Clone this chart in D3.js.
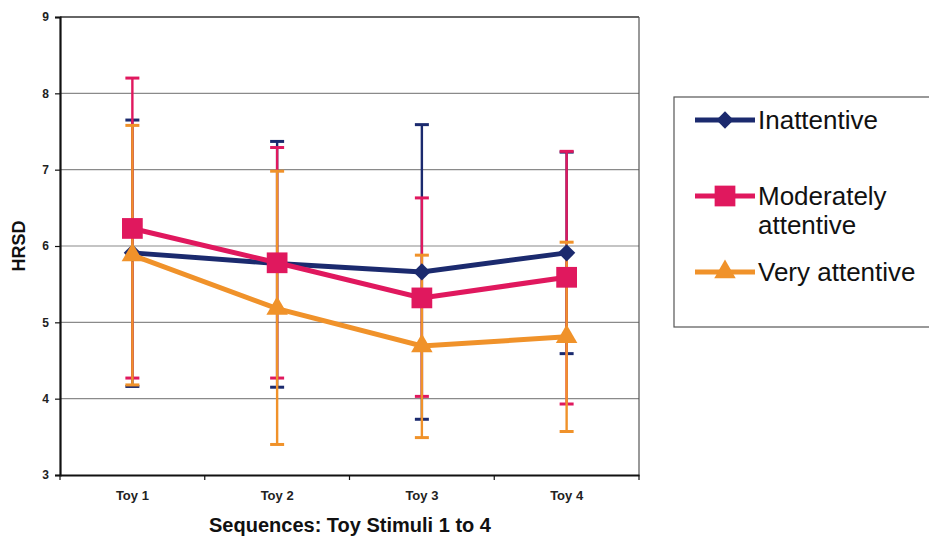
<!DOCTYPE html>
<html>
<head>
<meta charset="utf-8">
<script src="https://cdn.jsdelivr.net/npm/d3@7"></script>
<style>
  body { margin: 0; background: #fff; }
  text { font-family: "Liberation Sans", Arial, sans-serif; }
</style>
</head>
<body>
<div id="chart"></div>
<script>
// chart values
var categories = ["Toy 1", "Toy 2", "Toy 3", "Toy 4"];
var seriesNames = ["Inattentive", "Moderately attentive", "Very attentive"];
var inattentiveMean  = [5.91, 5.77, 5.66, 5.91];
var inattentiveHigh  = [7.65, 7.37, 7.59, 7.23];
var inattentiveLow   = [4.16, 4.15, 3.73, 4.59];
var moderateMean     = [6.23, 5.78, 5.32, 5.59];
var moderateHigh     = [8.20, 7.29, 6.63, 7.24];
var moderateLow      = [4.27, 4.27, 4.03, 3.93];
var veryMean         = [5.88, 5.18, 4.69, 4.81];
var veryHigh         = [7.58, 6.98, 5.88, 6.05];
var veryLow          = [4.18, 3.40, 3.49, 3.57];
var yTicks = [3, 4, 5, 6, 7, 8, 9];

var colors = ["#1b2a6e", "#e0185e", "#f0922a"];
var shapes = [d3.symbolDiamond2, d3.symbolSquare, d3.symbolTriangle];
var shapeSize = [190, 430, 200];

var series = [
  {name: seriesNames[0], mean: inattentiveMean, hi: inattentiveHigh, lo: inattentiveLow},
  {name: seriesNames[1], mean: moderateMean, hi: moderateHigh, lo: moderateLow},
  {name: seriesNames[2], mean: veryMean, hi: veryHigh, lo: veryLow}
];

var W = 929, H = 537;
var plot = {left: 60, right: 639, top: 17, bottom: 475};

var svg = d3.select("#chart").append("svg")
  .attr("width", W).attr("height", H);

var x = d3.scaleBand().domain(categories).range([plot.left, plot.right]);
var y = d3.scaleLinear().domain([3, 9]).range([plot.bottom, plot.top]);

// gridlines
svg.append("g").selectAll("line")
  .data(yTicks.slice(1, -1)).enter()
  .append("line")
    .attr("x1", plot.left).attr("x2", plot.right)
    .attr("y1", function (d) { return y(d); })
    .attr("y2", function (d) { return y(d); })
    .style("stroke", "#8a8a8a").style("stroke-width", 1.2);

// frame top / right
svg.append("line")
  .attr("x1", plot.left).attr("x2", plot.right)
  .attr("y1", y(9)).attr("y2", y(9))
  .style("stroke", "#333").style("stroke-width", 1.5);
svg.append("line")
  .attr("x1", plot.right).attr("x2", plot.right)
  .attr("y1", y(9)).attr("y2", y(3))
  .style("stroke", "#555").style("stroke-width", 1.2);

// y axis
var yAxis = svg.append("g")
  .attr("transform", "translate(" + plot.left + ",0)")
  .call(d3.axisLeft(y).tickValues(yTicks).tickSize(5).tickPadding(6).tickFormat(d3.format("d")));
yAxis.select(".domain").style("stroke", "#111").style("stroke-width", 2.2);
yAxis.selectAll(".tick line").style("stroke", "#111").style("stroke-width", 1.2);
yAxis.selectAll("text")
  .style("font-size", "12px").style("font-weight", "bold").style("fill", "#222");

// x axis
var xAxis = svg.append("g")
  .attr("transform", "translate(0," + plot.bottom + ")")
  .call(d3.axisBottom(x).tickSize(0).tickPadding(16));
xAxis.select(".domain").style("stroke", "#111").style("stroke-width", 2.2);
xAxis.selectAll("text")
  .style("font-size", "13px").style("font-weight", "bold").style("fill", "#222");
xAxis.selectAll(".bound")
  .data(d3.range(categories.length + 1)).enter()
  .append("line")
    .attr("class", "bound")
    .attr("x1", function (i) { return plot.left + i * x.step(); })
    .attr("x2", function (i) { return plot.left + i * x.step(); })
    .attr("y1", 0).attr("y2", 5)
    .style("stroke", "#111").style("stroke-width", 1.2);

var cx = function (i) { return x(categories[i]) + x.bandwidth() / 2; };

// error bars
series.forEach(function (s, si) {
  var g = svg.append("g").style("stroke", colors[si]);
  var idx = d3.range(categories.length);
  g.selectAll(".bar").data(idx).enter().append("line")
    .attr("x1", cx).attr("x2", cx)
    .attr("y1", function (i) { return y(s.hi[i]); })
    .attr("y2", function (i) { return y(s.lo[i]); })
    .style("stroke-width", 2.4);
  [s.hi, s.lo].forEach(function (arr) {
    g.selectAll(null).data(idx).enter().append("line")
      .attr("x1", function (i) { return cx(i) - 7; })
      .attr("x2", function (i) { return cx(i) + 7; })
      .attr("y1", function (i) { return y(arr[i]); })
      .attr("y2", function (i) { return y(arr[i]); })
      .style("stroke-width", 3);
  });
});

// lines and markers
var line = d3.line()
  .x(function (d, i) { return cx(i); })
  .y(function (d) { return y(d); });

series.forEach(function (s, si) {
  svg.append("path")
    .datum(s.mean)
    .attr("d", line)
    .style("fill", "none")
    .style("stroke", colors[si])
    .style("stroke-width", 5);
  svg.append("g").selectAll("path")
    .data(s.mean).enter()
    .append("path")
      .attr("d", d3.symbol().type(shapes[si]).size(shapeSize[si]))
      .attr("transform", function (d, i) { return "translate(" + cx(i) + "," + y(d) + ")"; })
      .style("fill", colors[si]);
});

// axis titles
svg.append("text")
  .attr("transform", "translate(25," + ((plot.top + plot.bottom) / 2) + ") rotate(-90)")
  .style("text-anchor", "middle")
  .style("font-size", "18px").style("font-weight", "bold").style("fill", "#111")
  .text("HRSD");

svg.append("text")
  .attr("x", 350).attr("y", 532)
  .style("text-anchor", "middle")
  .style("font-size", "20px").style("font-weight", "bold").style("fill", "#111")
  .text("Sequences: Toy Stimuli 1 to 4");

// legend
var legend = svg.append("g");
legend.append("rect")
  .attr("x", 674).attr("y", 97).attr("width", 270).attr("height", 230)
  .style("fill", "#fff").style("stroke", "#555").style("stroke-width", 1.2);

var legendRows = [
  {y: 120, lines: ["Inattentive"]},
  {y: 196, lines: ["Moderately", "attentive"]},
  {y: 272, lines: ["Very attentive"]}
];

legendRows.forEach(function (r, si) {
  legend.append("line")
    .attr("x1", 695).attr("x2", 755)
    .attr("y1", r.y).attr("y2", r.y)
    .style("stroke", colors[si]).style("stroke-width", 5);
  legend.append("path")
    .attr("d", d3.symbol().type(shapes[si]).size(shapeSize[si]))
    .attr("transform", "translate(725," + r.y + ")")
    .style("fill", colors[si]);
  var t = legend.append("text")
    .attr("x", 758).attr("y", r.y + 9)
    .style("font-size", "26px").style("fill", "#111");
  r.lines.forEach(function (l, k) {
    t.append("tspan").attr("x", 758).attr("dy", k === 0 ? 0 : 29).text(l);
  });
});
</script>
</body>
</html>
